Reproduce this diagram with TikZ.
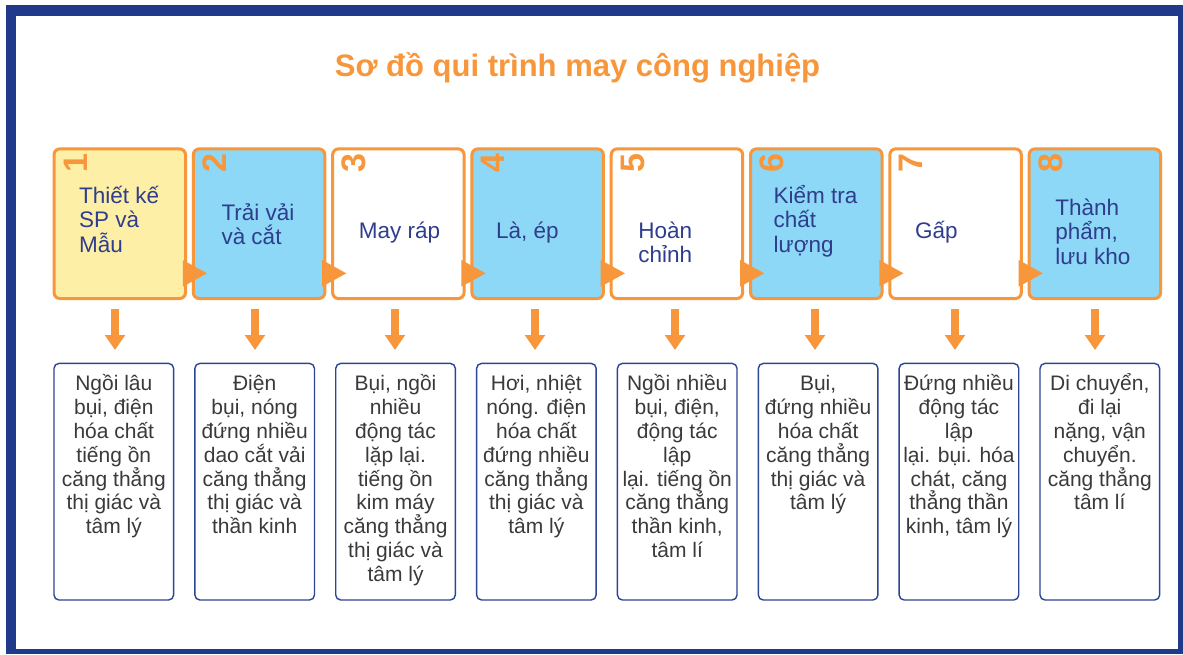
\documentclass[tikz,border=0pt]{standalone}
\usepackage{fontspec}
\setmainfont{Liberation Sans}
\usetikzlibrary{arrows.meta,calc}
\definecolor{orng}{HTML}{F7963A}
\definecolor{navytxt}{HTML}{2E3D8C}
\definecolor{lblue}{HTML}{8DD7F7}
\definecolor{yel}{HTML}{FDF0A6}
\definecolor{framebl}{HTML}{1F3A8A}
\definecolor{lowline}{HTML}{2C4596}
\definecolor{lowtxt}{HTML}{3A3A3A}
\tikzset{
  upbox/.style={draw=orng, line width=3pt, rounded corners=6pt, minimum width=131.5pt, minimum height=149.7pt, inner sep=0pt},
  lowbox/.style={draw=lowline, line width=1.4pt, rounded corners=5pt, fill=white, minimum width=119.6pt, minimum height=236.6pt, inner sep=0pt},
  uptext/.style={anchor=base west, align=left, text=navytxt, font=\fontsize{22.5}{24.3}\selectfont, inner sep=0pt},
  lowtext/.style={anchor=base, align=center, text=lowtxt, font=\fontsize{21}{23.8}\selectfont, inner sep=0pt},
  numtext/.style={rotate=90, anchor=base, text=orng, font=\fontsize{34}{34}\selectfont\bfseries, inner sep=0pt},
  titletext/.style={anchor=base, text=orng, font=\fontsize{31}{36}\selectfont\bfseries, inner sep=0pt},
  tri/.style={fill=orng},
  downarr/.style={draw=orng, line width=8pt, -{Triangle[width=19.5pt,length=15pt]}}
}
\begin{document}
\begin{tikzpicture}[x=1pt,y=-1pt]
\useasboundingbox (0,0) rectangle (1183,654);
% frame
\fill[framebl] (6,5) rectangle (1183,654);
\fill[white] (16,16) rectangle (1178,649);
% title
\node[titletext] (title) at (577.5,76.7) {Sơ đồ qui trình may công nghiệp};
% upper boxes
\foreach \i/\col in {1/yel,2/lblue,3/white,4/lblue,5/white,6/lblue,7/white,8/lblue} {
  \node[upbox, fill=\col] (u\i) at ({52.5+139.3*(\i-1)+67.25}, 223.7) {};
  \node[numtext] (n\i) at ($(u\i.north west)+(34.5,16)$) {\i};
}
% flow triangles
\foreach \i in {1,...,7} {
  \fill[tri] ($(u\i.east)+(-4.2,36.3)$) -- ($(u\i.east)+(20,49.6)$) -- ($(u\i.east)+(-4.2,63)$) -- cycle;
}
% upper texts (anchor = baseline of last line)
\node[uptext] (t1) at ($(u1.north west)+(26.5,104.8)$) {Thiết kế\\SP và\\Mẫu};
\node[uptext] (t2) at ($(u2.north west)+(29.5,97.5)$) {Trải vải\\và cắt};
\node[uptext] (t3) at ($(u3.north west)+(27.5,91.2)$) {May ráp};
\node[uptext] (t4) at ($(u4.north west)+(25.5,91.2)$) {Là, ép};
\node[uptext] (t5) at ($(u5.north west)+(28.5,115.5)$) {Hoàn\\chỉnh};
\node[uptext] (t6) at ($(u6.north west)+(24.5,104.8)$) {Kiểm tra\\chất\\lượng};
\node[uptext] (t7) at ($(u7.north west)+(26.5,91.2)$) {Gấp};
\node[uptext] (t8) at ($(u8.north west)+(27.5,116.8)$) {Thành\\phẩm,\\lưu kho};
% lower boxes
\foreach \i in {1,...,8} {
  \node[lowbox] (l\i) at ({53.3+140.86*(\i-1)+60.5}, 481.7) {};
  \coordinate (da\i) at ({115+140*(\i-1)}, 309);
  \coordinate (db\i) at ({115+140*(\i-1)}, 350);
  \draw[downarr] (da\i) -- (db\i);
}
\node[lowtext] (lt1) at ($(l1.north)+(0,170.9)$) {Ngồi lâu\\bụi, điện\\hóa chất\\tiếng ồn\\căng thẳng\\thị giác và\\tâm lý};
\node[lowtext] (lt2) at ($(l2.north)+(0,170.9)$) {Điện\\bụi, nóng\\đứng nhiều\\dao cắt vải\\căng thẳng\\thị giác và\\thần kinh};
\node[lowtext] (lt3) at ($(l3.north)+(0,218.5)$) {Bụi, ngồi\\nhiều\\động tác\\lặp lại.\\tiếng ồn\\kim máy\\căng thẳng\\thị giác và\\tâm lý};
\node[lowtext] (lt4) at ($(l4.north)+(0,170.9)$) {Hơi, nhiệt\\nóng. điện\\hóa chất\\đứng nhiều\\căng thẳng\\thị giác và\\tâm lý};
\node[lowtext] (lt5) at ($(l5.north)+(0,194.7)$) {Ngồi nhiều\\bụi, điện,\\động tác\\lập\\lại. tiếng ồn\\căng thẳng\\thần kinh,\\tâm lí};
\node[lowtext] (lt6) at ($(l6.north)+(0,147.1)$) {Bụi,\\đứng nhiều\\hóa chất\\căng thẳng\\thị giác và\\tâm lý};
\node[lowtext] (lt7) at ($(l7.north)+(0,170.9)$) {Đứng nhiều\\động tác\\lập\\lại. bụi. hóa\\chát, căng\\thẳng thần\\kinh, tâm lý};
\node[lowtext] (lt8) at ($(l8.north)+(0,147.1)$) {Di chuyển,\\đi lại\\nặng, vận\\chuyển.\\căng thẳng\\tâm lí};
\end{tikzpicture}
\end{document}
